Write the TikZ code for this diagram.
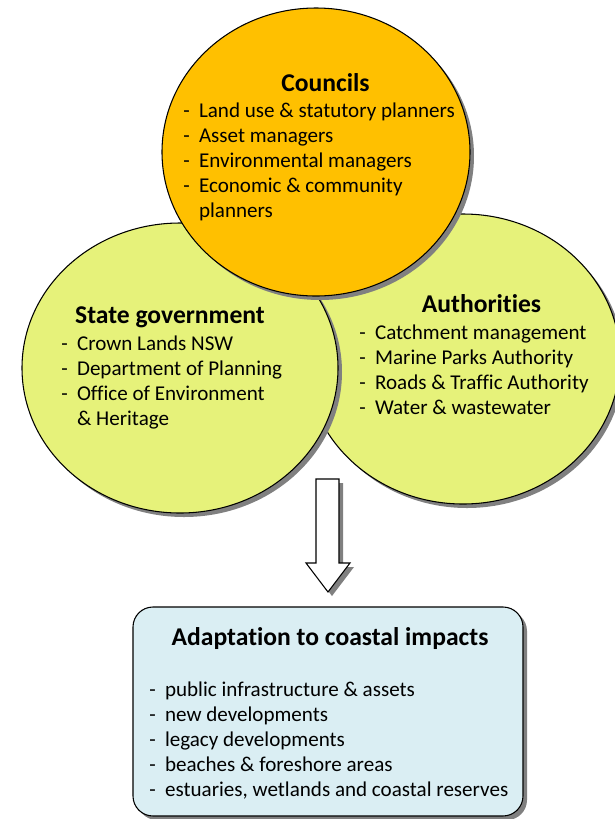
\documentclass[tikz,border=0pt]{standalone}
\usepackage{fontspec}
\setmainfont{Carlito}[Ligatures=NoCommon]
\usepackage{xcolor}
\usepackage{tikz}
\usetikzlibrary{
    shapes.geometric,
    shadows,
    positioning
}
\definecolor{councilorange}{HTML}{FFC000}
\definecolor{groupgreen}{HTML}{E6F27A}
\definecolor{impactblue}{HTML}{DAEEF3}
\tikzset{
    softshadow/.style = {
        drop shadow = {shadow xshift=3pt, shadow yshift=-3pt,
                       fill=black!50, opacity=1}
    },
    groupcircle/.style = {
        ellipse,
        draw = black,
        line width = 0.8pt,
        inner sep = 0pt,
        softshadow
    },
    grouptitle/.style = {
        anchor = base,
        inner sep = 0pt,
        font = \fontsize{19.2}{23}\selectfont\bfseries
    },
    grouplist/.style = {
        anchor = base west,
        inner sep = 0pt,
        font = \fontsize{15.8}{18.75}\selectfont
    }
}

\begin{document}
\begin{tikzpicture}[x=0.75pt, y=-0.75pt]
% Rahmen in Pixeln
\useasboundingbox (0,0) rectangle (615,819);

% Drei Gruppen
\node[groupcircle, fill=groupgreen, minimum width=235.5pt, minimum height=217.5pt]
    (authorities) at (463,359) {};
\node[groupcircle, fill=groupgreen, minimum width=237pt, minimum height=217.5pt]
    (stategov) at (180,368) {};
\node[groupcircle, fill=councilorange, minimum width=231pt, minimum height=216pt]
    (councils) at (316,152) {};

% Councils
\node[grouptitle] (councilsTitle) at (325.5,91) {Councils};
\node[grouplist] (councilsList) at (183,117) {%
    \begin{tabular}[t]{@{}l@{\hspace{7pt}}l@{}}
    - & Land use \& statutory planners\\
    - & Asset managers\\
    - & Environmental managers\\
    - & Economic \& community\\
      & planners
    \end{tabular}};

% State government
\node[grouptitle] (stategovTitle) at (170,323) {State government};
\node[grouplist] (stategovList) at (61,350) {%
    \begin{tabular}[t]{@{}l@{\hspace{7pt}}l@{}}
    - & Crown Lands NSW\\
    - & Department of Planning\\
    - & Office of Environment\\
      & \& Heritage
    \end{tabular}};

% Authorities
\node[grouptitle] (authoritiesTitle) at (481.5,312) {Authorities};
\node[grouplist] (authoritiesList) at (359,339) {%
    \begin{tabular}[t]{@{}l@{\hspace{7pt}}l@{}}
    - & Catchment management\\
    - & Marine Parks Authority\\
    - & Roads \& Traffic Authority\\
    - & Water \& wastewater
    \end{tabular}};

% Blockpfeil nach unten
\draw[fill=white, line width=0.8pt, softshadow]
    (316,479) -- (339,479) -- (339,563) -- (350,563)
    -- (328,592) -- (306,563) -- (316,563) -- cycle;

% Adaptation
\node[draw=black, line width=0.8pt, fill=impactblue, rounded corners=15pt,
      minimum width=292.5pt, minimum height=156.75pt, softshadow]
    (impacts) at (328,711.5) {};
\node[grouptitle] (impactsTitle) at (330,645) {Adaptation to coastal impacts};
\node[grouplist] (impactsList) at (149,696) {%
    \begin{tabular}[t]{@{}l@{\hspace{7pt}}l@{}}
    - & public infrastructure \& assets\\
    - & new developments\\
    - & legacy developments\\
    - & beaches \& foreshore areas\\
    - & estuaries, wetlands and coastal reserves
    \end{tabular}};
\end{tikzpicture}
\end{document}
